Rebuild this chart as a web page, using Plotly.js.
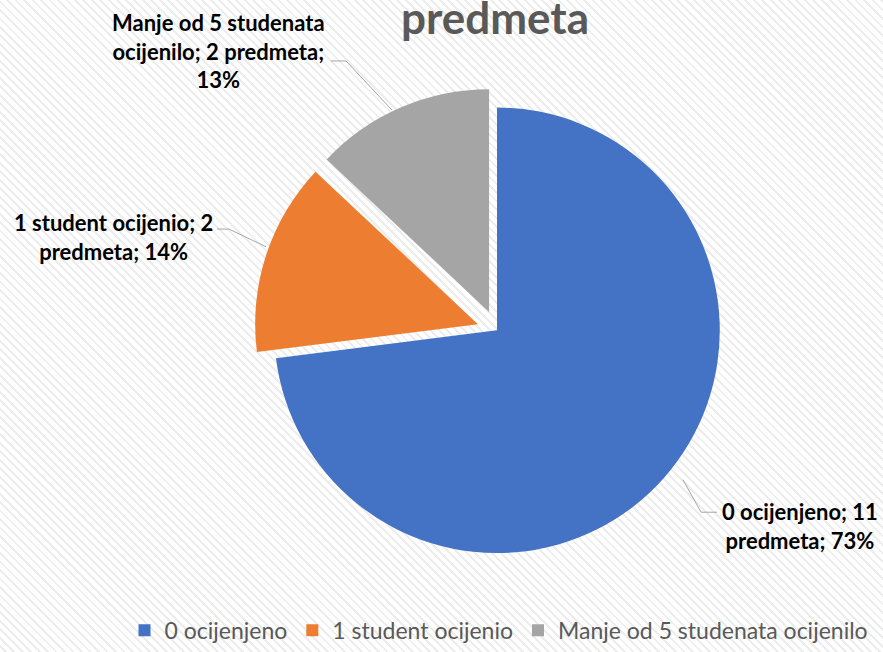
<!DOCTYPE html>
<html>
<head>
<meta charset="utf-8">
<script src="https://cdn.plot.ly/plotly-3.0.1.min.js"></script>
<style>
html,body{margin:0;padding:0;}
body{width:883px;height:652px;overflow:hidden;
background:repeating-linear-gradient(45deg,#ffffff 0px,#ffffff 3px,#ededed 3px,#ededed 5px,#ffffff 5px,#ffffff 6px);}
#chart{width:883px;height:652px;}
</style>
</head>
<body>
<div id="chart"></div>
<script>
// ---- data ----
const categories = ['0 ocijenjeno', '1 student ocijenio', 'Manje od 5 studenata ocijenilo'];
const subjectCounts = [11, 2, 2];
const percentShares = [73, 14, 13];
const sliceColors = ['#4472C4', '#ED7D31', '#A5A5A5'];
const titleText = 'predmeta';

// ---- geometry helpers ----
const W = 883, H = 652;
const px = x => x / W;
const py = y => 1 - y / H;

// label text built from data, wrapped after given word indices
const wrapAfter = [[3], [4], [4, 7]];
function buildLabel(i) {
  const words = `${categories[i]}; ${subjectCounts[i]} predmeta; ${percentShares[i]}%`.split(' ');
  let out = '';
  words.forEach((w, k) => {
    out += w;
    if (k < words.length - 1) out += wrapAfter[i].includes(k + 1) ? '<br>' : ' ';
  });
  return out;
}

const labelPos = [[800, 535], [113, 241], [218, 52]];
const leaderPaths = [
  [[683, 488], [701, 521], [717, 521]],
  [[217, 233], [229, 233], [266, 251]],
  [[331, 62], [346, 62], [392, 112]]
];

const trace = {
  type: 'pie',
  labels: categories,
  values: percentShares,
  customdata: subjectCounts,
  sort: false,
  direction: 'clockwise',
  rotation: 0,
  pull: [0, 0.09, 0.09],
  marker: { colors: sliceColors, line: { width: 0 } },
  textinfo: 'none',
  hoverinfo: 'label+value',
  domain: { x: [px(250), px(744)], y: [py(583), py(89)] }
};

const annotations = categories.map((c, i) => ({
  xref: 'paper', yref: 'paper',
  x: px(labelPos[i][0]), y: py(labelPos[i][1]),
  xanchor: 'center', yanchor: 'middle',
  text: '<b>' + buildLabel(i) + '</b>',
  showarrow: false,
  align: 'center',
  font: { family: 'Lato, "Open Sans", sans-serif', size: 22, color: '#000000' }
}));
annotations.push({
  xref: 'paper', yref: 'paper',
  x: px(495), y: py(17), xanchor: 'center', yanchor: 'middle',
  text: '<b>' + titleText + '</b>', showarrow: false,
  font: { family: 'Lato, "Open Sans", sans-serif', size: 44, color: '#595959' }
});

const shapes = leaderPaths.map(p => ({
  type: 'path', xref: 'paper', yref: 'paper',
  path: 'M' + p.map(q => px(q[0]) + ',' + py(q[1])).join(' L'),
  line: { color: '#A6A6A6', width: 1 }
}));

const layout = {
  width: W, height: H,
  margin: { l: 0, r: 0, t: 0, b: 0 },
  paper_bgcolor: 'rgba(0,0,0,0)',
  plot_bgcolor: 'rgba(0,0,0,0)',
  showlegend: true,
  legend: {
    orientation: 'h', x: px(499), y: py(641), xanchor: 'center', yanchor: 'middle',
    font: { family: 'Lato, "Open Sans", sans-serif', size: 23, color: '#595959' },
    bgcolor: 'rgba(0,0,0,0)', itemwidth: 30
  },
  annotations: annotations,
  shapes: shapes
};

Plotly.newPlot('chart', [trace], layout, { displayModeBar: false, staticPlot: true });
</script>
</body>
</html>
